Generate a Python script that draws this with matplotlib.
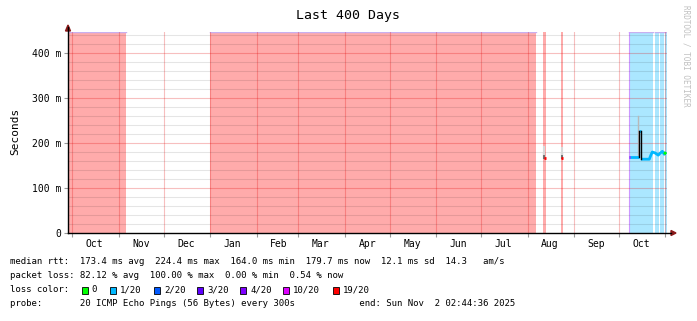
#!/usr/bin/env python3
import datetime as dt
import matplotlib
matplotlib.use("Agg")
import matplotlib.pyplot as plt
from matplotlib.patches import Rectangle, Polygon
from matplotlib.lines import Line2D

W, H = 697, 321
MONO = "DejaVu Sans Mono"

# --- data ---
t_end = dt.datetime(2025, 11, 2, 2, 44, 36)
t_start = t_end - dt.timedelta(days=400)

# periods with 19/20 loss (red) and 1/20 loss (cyan)
red_starts = ["2024-09-28 02:44", "2024-12-31 20:00", "2025-08-11 02:00", "2025-08-23 02:00"]
red_ends = ["2024-11-05 18:00", "2025-08-06 12:00", "2025-08-13 08:00", "2025-08-24 17:00"]
blue_starts = ["2025-10-07 17:00", "2025-10-24 19:00", "2025-10-28 17:00", "2025-10-31 12:00"]
blue_ends = ["2025-10-23 22:00", "2025-10-27 22:00", "2025-10-30 19:00", "2025-11-02 02:44"]

# median rtt (s)
med_times = ["2025-10-07 17:00", "2025-10-14 10:00", "2025-10-14 18:00", "2025-10-15 17:00",
             "2025-10-15 18:00", "2025-10-21 07:00", "2025-10-22 05:00", "2025-10-23 07:00",
             "2025-10-25 02:00", "2025-10-27 07:00", "2025-10-28 10:00", "2025-10-30 00:00",
             "2025-10-31 07:00", "2025-11-01 10:00"]
med_vals = [0.168, 0.168, 0.226, 0.226, 0.164, 0.164, 0.172, 0.180,
            0.178, 0.173, 0.177, 0.1815, 0.175, 0.1797]

# isolated samples in August (19/20 loss) and their smoke top
aug_times = ["2025-08-12 06:00", "2025-08-23 22:00"]
aug_vals = [0.166, 0.166]
aug_smoke_top = [0.191, 0.190]

# smoke spike in October
spike_time = "2025-10-13 22:00"
spike_lo, spike_hi = 0.168, 0.260

loss_labels = ["0", "1/20", "2/20", "3/20", "4/20", "10/20", "19/20"]
loss_colors = ["#00ff00", "#00b8ff", "#0059ff", "#5e00ff", "#7e00ff", "#dd00ff", "#ff0000"]

months = ["Oct", "Nov", "Dec", "Jan", "Feb", "Mar", "Apr", "May", "Jun", "Jul", "Aug", "Sep", "Oct"]
month_years = [2024, 2024, 2024, 2025, 2025, 2025, 2025, 2025, 2025, 2025, 2025, 2025, 2025]
month_nums = [10, 11, 12, 1, 2, 3, 4, 5, 6, 7, 8, 9, 10]

legend_lines = [
    "median rtt:  173.4 ms avg  224.4 ms max  164.0 ms min  179.7 ms now  12.1 ms sd  14.3   am/s",
    "packet loss: 82.12 % avg  100.00 % max  0.00 % min  0.54 % now",
    "loss color:",
    "probe:       20 ICMP Echo Pings (56 Bytes) every 300s            end: Sun Nov  2 02:44:36 2025",
]


def ts(s):
    return dt.datetime.strptime(s, "%Y-%m-%d %H:%M")


fig = plt.figure(figsize=(W / 100, H / 100), dpi=100)
ax = fig.add_axes([68 / W, 1 - 233 / H, 599 / W, 201 / H])
ymax = 201 / 450
ax.set_xlim(t_start, t_end)
ax.set_ylim(0, ymax)

for i, (a, b) in enumerate(zip(red_starts, red_ends)):
    ax.axvspan(ts(a), ts(b), color="#ff0000", alpha=0.33, lw=0, zorder=1)
    if i < 2:
        ax.plot([ts(a), ts(b)], [ymax, ymax], color="#c8b0f0", lw=1, zorder=2)
for a, b in zip(blue_starts, blue_ends):
    ax.axvspan(ts(a), ts(b), color="#00b8ff", alpha=0.33, lw=0, zorder=1)
    ax.plot([ts(a), ts(b)], [ymax, ymax], color="#c8b0f0", lw=1, zorder=2)
ax.axvline(ts(blue_starts[0]), color="#cc99ff", lw=0.8, zorder=2)

# grid
for k in range(1, 23):
    if k % 5:
        ax.axhline(k * 0.02, color="black", alpha=0.1, lw=0.8, zorder=3)
for v in [0.1, 0.2, 0.3, 0.4]:
    ax.axhline(v, color="#e00000", alpha=0.25, lw=0.8, zorder=3)
month_starts = [dt.datetime(y, m, 1) for y, m in zip(month_years, month_nums)] + [dt.datetime(2025, 11, 1)]
for d in month_starts:
    ax.axvline(d, color="#e00000", alpha=0.25, lw=0.8, zorder=3)

# smoke
ax.plot([ts(spike_time)] * 2, [spike_lo, spike_hi], color="#b8b8b8", lw=1, zorder=4)
for t, v, top in zip(aug_times, aug_vals, aug_smoke_top):
    ax.plot([ts(t)] * 2, [v, v + (top - v) * 0.4], color="#707070", lw=1.5, zorder=4)
    ax.plot([ts(t)] * 2, [v + (top - v) * 0.4, top], color="#d8d8d8", lw=1.5, zorder=4)
    ax.plot([ts(t) - dt.timedelta(hours=10), ts(t) + dt.timedelta(hours=20)], [v, v],
            color="#ff0000", lw=2, zorder=5, solid_capstyle="butt")

# median
mt = [ts(s) for s in med_times]
cyan = "#00b8ff"
ax.plot(mt[:2], med_vals[:2], color=cyan, lw=2, zorder=5, solid_capstyle="butt")
ax.plot(mt[2:4], med_vals[2:4], color=cyan, lw=2, zorder=5, solid_capstyle="butt")
ax.plot(mt[4:], med_vals[4:], color=cyan, lw=2, zorder=5, solid_capstyle="butt")
ax.plot([mt[0], mt[0] + dt.timedelta(hours=20)], [med_vals[0]] * 2, color="#dd00ff", lw=2,
        zorder=6, solid_capstyle="butt")
ax.plot([mt[1], mt[1]], [med_vals[1], med_vals[2]], color="black", lw=1, zorder=6)
ax.plot([mt[3], mt[3]], [med_vals[3], med_vals[4]], color="black", lw=1, zorder=6)
ax.plot([mt[-2], mt[-1]], med_vals[-2:], color="#00ff00", lw=2, zorder=6, solid_capstyle="butt")

# axes
for s in ax.spines.values():
    s.set_visible(False)
ax.set_yticks([0, 0.1, 0.2, 0.3, 0.4])
ax.set_yticklabels(["0", "100 m", "200 m", "300 m", "400 m"], family=MONO, fontsize=7)
ax.set_xticks(month_starts)
ax.set_xticklabels([])
ax.set_xticks([dt.datetime(y, m, 16) for y, m in zip(month_years, month_nums)], minor=True)
ax.set_xticklabels(months, minor=True, family=MONO, fontsize=7)
ax.tick_params(axis="x", which="major", length=3, width=0.8, color="#999999", direction="out")
ax.tick_params(axis="x", which="minor", length=0, pad=4)
ax.tick_params(axis="y", length=3, width=0.8, color="#999999", direction="out", pad=2)

fig.add_artist(Line2D([68 / W, 671 / W], [1 - 233 / H] * 2, color="black", lw=1))
fig.add_artist(Line2D([68 / W] * 2, [1 - 233 / H, 1 - 27 / H], color="black", lw=1))
fig.add_artist(Polygon([[671 / W, 1 - 230.5 / H], [671 / W, 1 - 235.5 / H], [676 / W, 1 - 233 / H]],
                       closed=True, color="#8b1a1a", transform=fig.transFigure))
fig.add_artist(Polygon([[65.5 / W, 1 - 31 / H], [70.5 / W, 1 - 31 / H], [68 / W, 1 - 25 / H]],
                       closed=True, color="#8b1a1a", transform=fig.transFigure))

fig.text(0.5, 1 - 16 / H, "Last 400 Days", ha="center", va="center", family=MONO, fontsize=9.5)
fig.text(15 / W, 1 - 131 / H, "Seconds", rotation=90, ha="center", va="center", family=MONO, fontsize=8)
fig.text(686 / W, 1 - 5 / H, "RRDTOOL / TOBI OETIKER", rotation=270, ha="center", va="top",
         family=MONO, fontsize=5.5, color="#c0c0c0")

ys = [262, 276, 290, 303]
for line, y in zip(legend_lines, ys):
    fig.text(10 / W, 1 - y / H, line, ha="left", va="center", family=MONO, fontsize=6.5)

box_x = [81.7, 110, 154, 197.3, 240, 283.3, 333]
for bx, lab, col in zip(box_x, loss_labels, loss_colors):
    fig.add_artist(Rectangle((bx / W, 1 - 293.5 / H), 6 / W, 7 / H, facecolor=col,
                             edgecolor="black", lw=0.6, transform=fig.transFigure))
    fig.text((bx + 10) / W, 1 - 290 / H, lab, ha="left", va="center", family=MONO, fontsize=6.5)

fig.savefig("out.png", dpi=100)
